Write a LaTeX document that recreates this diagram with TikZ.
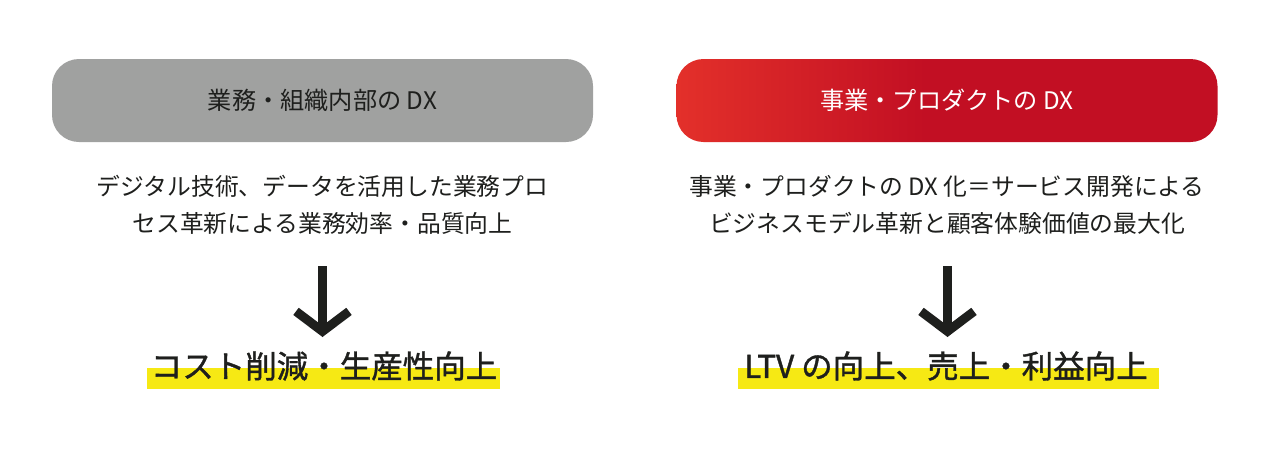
\documentclass[tikz,border=0pt]{standalone}
\usepackage{fontspec}
\setmainfont{Noto Sans CJK JP}
\newfontfamily\heavyjp[FakeBold=1.2]{Noto Sans CJK JP}
\usetikzlibrary{arrows.meta}
\definecolor{g}{RGB}{160, 161, 160}
\definecolor{r1}{RGB}{227, 48, 42}
\definecolor{r2}{RGB}{194, 15, 35}
\definecolor{y}{RGB}{246, 233, 20}
\definecolor{k}{RGB}{30, 31, 29}
\pgfdeclarehorizontalshading{redfade}{100bp}{color(0bp)=(r1); color(25bp)=(r1); color(48bp)=(r2); color(100bp)=(r2)}

\begin{document}
\begin{tikzpicture}[x=1pt,y=-1pt,
  head/.style={shape=rectangle,rounded corners=27pt,minimum width=541pt,minimum height=83pt,font=\fontsize{24.2}{28}\selectfont},
  desc/.style={align=center,text=k,font=\fontsize{23.8}{37.5}\selectfont},
  hilite/.style={shape=rectangle,fill=y,inner sep=0pt,minimum height=21pt},
  result/.style={inner sep=0pt,text=k,font=\heavyjp\fontsize{31.5}{36}\selectfont},
  down/.style={draw=k,line width=9pt,-{Straight Barb[length=20pt,width=53pt]}}]
\path[fill=white] (0,0) rectangle (1269,461);

\node[head,fill=g,text=k] (HL) at (322.5,100.5) {業務・組織内部の DX};
\node[head,shading=redfade,text=white] (HR) at (947,100.5) {事業・プロダクトの DX};

\node[desc] (DL) at (322.5,205) {デジタル技術、データを活用した業務プロ\\セス革新による業務効率・品質向上};
\node[desc] (DR) at (947,205) {事業・プロダクトの DX 化＝サービス開発による\\ビジネスモデル革新と顧客体験価値の最大化};

\coordinate (AL1) at (322.5,266);
\coordinate (AL2) at (322.5,337);
\coordinate (AR1) at (947.5,266);
\coordinate (AR2) at (947.5,337);
\draw[down] (AL1) -- (AL2);
\draw[down] (AR1) -- (AR2);

\node[hilite,minimum width=353pt] (ML) at (323.6,378.8) {};
\node[hilite,minimum width=421pt] (MR) at (948,378.8) {};
\node[result] (RL) at (324,366) {コスト削減・生産性向上};
\node[result] (RR) at (946,366) {LTV の向上、売上・利益向上};
\end{tikzpicture}
\end{document}
